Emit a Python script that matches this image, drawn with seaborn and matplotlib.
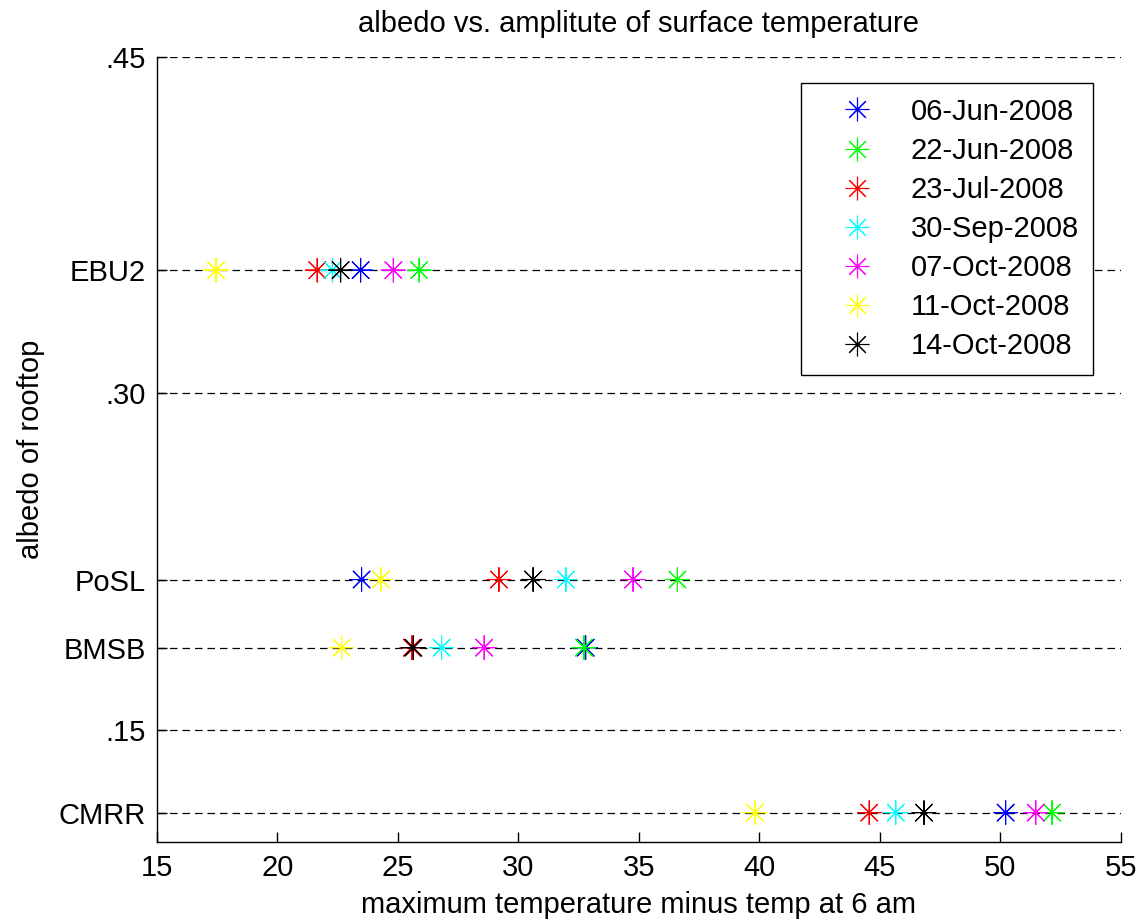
import numpy as np
import pandas as pd
import matplotlib
matplotlib.use('Agg')
import matplotlib.pyplot as plt
import seaborn as sns

# 日期（图例顺序）与颜色
dates = ['06-Jun-2008', '22-Jun-2008', '23-Jul-2008', '30-Sep-2008',
         '07-Oct-2008', '11-Oct-2008', '14-Oct-2008']
colors = ['#0000ff', '#00ff00', '#ff0000', '#00ffff', '#ff00ff', '#ffff00', '#000000']

# 屋顶名称及其反照率
sites = ['EBU2', 'PoSL', 'BMSB', 'CMRR']
albedo = [0.355, 0.217, 0.1866, 0.113]

# 每个屋顶在各日期的温度振幅（按 dates 顺序）
amp_ebu2 = [23.45, 25.88, 21.65, 22.28, 24.81, 17.45, 22.62]
amp_posl = [23.49, 36.60, 29.19, 31.97, 34.76, 24.29, 30.61]
amp_bmsb = [32.79, 32.72, 25.58, 26.81, 28.58, 22.66, 25.64]
amp_cmrr = [50.22, 52.15, 44.56, 45.66, 51.47, 39.81, 46.83]

# y 轴刻度
ytick_vals = [0.45, 0.355, 0.30, 0.217, 0.1866, 0.15, 0.113]
ytick_labels = ['.45', 'EBU2', '.30', 'PoSL', 'BMSB', '.15', 'CMRR']

rows = []
for site, alb, amps in zip(sites, albedo, [amp_ebu2, amp_posl, amp_bmsb, amp_cmrr]):
    for d, a in zip(dates, amps):
        rows.append({'site': site, 'albedo': alb, 'amp': a, 'date': d})
df = pd.DataFrame(rows)

sns.set_style('white')
plt.rcParams['font.family'] = ['Liberation Sans', 'DejaVu Sans']
plt.rcParams['text.color'] = 'black'
plt.rcParams['axes.labelcolor'] = 'black'
plt.rcParams['xtick.color'] = 'black'
plt.rcParams['ytick.color'] = 'black'
plt.rcParams['xtick.direction'] = 'in'
plt.rcParams['ytick.direction'] = 'in'

fig = plt.figure(figsize=(11.46, 9.23), dpi=100)
ax = fig.add_axes([0.137, 0.088, 0.841, 0.850])

# 先画网格线
for y in ytick_vals:
    ax.axhline(y, color='black', lw=0.9, ls=(0, (6, 4)), zorder=0)

sns.scatterplot(data=df, x='amp', y='albedo', hue='date', hue_order=dates,
                palette=colors, marker=(8, 2, 0), s=290, linewidth=0.8,
                ax=ax, legend=False, zorder=3)

ax.set_xlim(15, 55)
ax.set_ylim(0.1, 0.45)
ax.set_xticks(np.arange(15, 56, 5))
ax.set_yticks(ytick_vals)
ax.set_yticklabels(ytick_labels)
ax.tick_params(axis='both', labelsize=21, length=7, width=1, color='black',
               bottom=True, left=True)
ax.tick_params(axis='x', pad=9)
ax.tick_params(axis='y', pad=8)

for side in ['top', 'right']:
    ax.spines[side].set_visible(False)
for side in ['left', 'bottom']:
    ax.spines[side].set_color('black')
    ax.spines[side].set_linewidth(1)

ax.set_title('albedo vs. amplitute of surface temperature', fontsize=21, pad=18)
ax.set_xlabel('maximum temperature minus temp at 6 am', fontsize=21, labelpad=6)
ax.set_ylabel('albedo of rooftop', fontsize=21, labelpad=10)

# 图例
handles = [plt.Line2D([], [], ls='', marker=(8, 2, 0), markersize=17,
                      markeredgewidth=0.8, color=c) for c in colors]
leg = ax.legend(handles, dates, loc='upper right', bbox_to_anchor=(0.9715, 0.967),
                fontsize=21, frameon=True, fancybox=False, framealpha=1,
                edgecolor='black', handlelength=2.85, handletextpad=0.4,
                labelspacing=0.38, borderpad=0.5, borderaxespad=0)
leg.get_frame().set_linewidth(1)

fig.savefig('out.png', dpi=100)
